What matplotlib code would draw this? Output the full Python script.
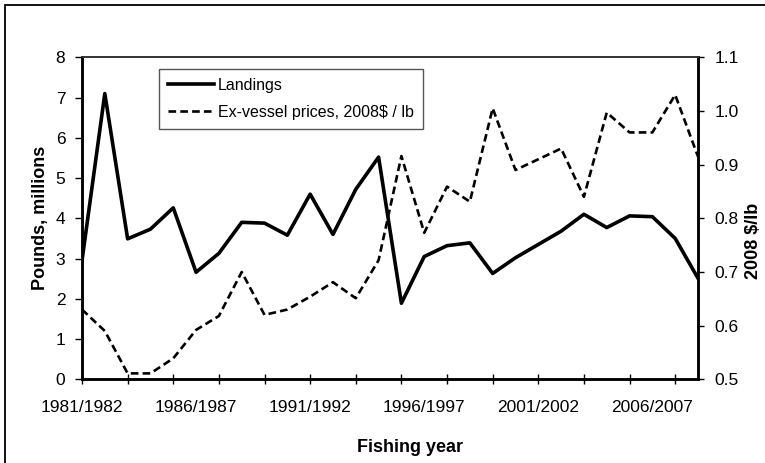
import matplotlib
matplotlib.use("Agg")
import matplotlib.pyplot as plt
from matplotlib.patches import Rectangle
from matplotlib.ticker import FixedLocator, FixedFormatter, FormatStrFormatter

plt.rcParams['font.family'] = ['Liberation Sans', 'DejaVu Sans']
plt.rcParams['lines.scale_dashes'] = False

# ---- data ----
fishing_years = [f"{y}/{y + 1}" for y in range(1981, 2009)]
landings = [2.95, 7.1, 3.49, 3.73, 4.26, 2.66, 3.13, 3.90, 3.88, 3.58,
            4.60, 3.60, 4.72, 5.52, 1.89, 3.05, 3.32, 3.39, 2.63, 3.02,
            3.35, 3.68, 4.10, 3.77, 4.06, 4.04, 3.50, 2.51]
prices = [0.63, 0.59, 0.511, 0.511, 0.539, 0.592, 0.618, 0.70, 0.62, 0.63,
          0.654, 0.681, 0.651, 0.722, 0.916, 0.773, 0.859, 0.831, 1.005, 0.89,
          0.91, 0.93, 0.84, 0.997, 0.96, 0.96, 1.03, 0.915]
label_years = ["1981/1982", "1986/1987", "1991/1992", "1996/1997", "2001/2002", "2006/2007"]
left_ticks = [0, 1, 2, 3, 4, 5, 6, 7, 8]
right_ticks = [0.5, 0.6, 0.7, 0.8, 0.9, 1.0, 1.1]

x = list(range(len(fishing_years)))
label_pos = [fishing_years.index(l) for l in label_years]

fig = plt.figure(figsize=(7.65, 4.63), dpi=100)
ax = fig.add_axes([0.10719, 0.18078, 0.80523, 0.69546])
ax2 = ax.twinx()

l1, = ax.plot(x, landings, color='black', lw=2.6, label='Landings',
              solid_joinstyle='round', zorder=3)
l2, = ax2.plot(x, prices, color='black', lw=1.9, linestyle=(0, (5.5, 3.0)),
               label='Ex-vessel prices, 2008$ / lb', zorder=3)

ax.set_xlim(0, len(x) - 1)
ax.set_ylim(0, 8)
ax2.set_ylim(0.5, 1.1)

# x ticks: marks every 2 categories, labels every 5
ax.xaxis.remove_overlapping_locs = False
ax.xaxis.set_major_locator(FixedLocator(list(range(0, len(x), 2))))
ax.xaxis.set_major_formatter(FixedFormatter([""] * len(range(0, len(x), 2))))
ax.xaxis.set_minor_locator(FixedLocator(label_pos))
ax.xaxis.set_minor_formatter(FixedFormatter(label_years))
ax.tick_params(axis='x', which='major', direction='inout', length=7, width=1.0)
ax.tick_params(axis='x', which='minor', length=0, pad=15, labelsize=12.5)

ax.set_yticks(left_ticks)
ax.tick_params(axis='y', direction='out', length=5, width=1.0, pad=7, labelsize=12.5)
ax2.set_yticks(right_ticks)
ax2.yaxis.set_major_formatter(FormatStrFormatter('%.1f'))
ax2.tick_params(axis='y', direction='out', length=4, width=1.0, pad=8, labelsize=12.5)

for a in (ax, ax2):
    for s in ('left', 'bottom', 'right'):
        a.spines[s].set_linewidth(1.8)
        a.spines[s].set_color('black')
    a.spines['top'].set_linewidth(1.2)
    a.spines['top'].set_color('#333333')

fig.text(40 / 765, 1 - 218 / 463, 'Pounds, millions', fontsize=13, fontweight='bold',
         rotation=90, ha='center', va='center')
fig.text(753 / 765, 1 - 241 / 463, '2008 $/lb', fontsize=13, fontweight='bold',
         rotation=90, ha='center', va='center')
fig.text(410 / 765, 1 - 448 / 463, 'Fishing year', fontsize=13, fontweight='bold',
         ha='center', va='center')

leg = ax2.legend(handles=[l1, l2], loc='upper left',
                 bbox_to_anchor=(159 / 765, 1 - 69 / 463), bbox_transform=fig.transFigure,
                 fontsize=11.5, frameon=True, fancybox=False, edgecolor='#555555',
                 framealpha=1, handlelength=2.9, handletextpad=0.25,
                 labelspacing=0.75, borderpad=0.55, borderaxespad=0)
leg.get_frame().set_linewidth(1.0)

# outer chart border
fig.patches.append(Rectangle((5 / 765, -0.05), 1.1, 1 - 5 / 463 + 0.05,
                             transform=fig.transFigure, fill=False,
                             edgecolor='black', lw=1.3))

fig.savefig('out.png', dpi=100)
